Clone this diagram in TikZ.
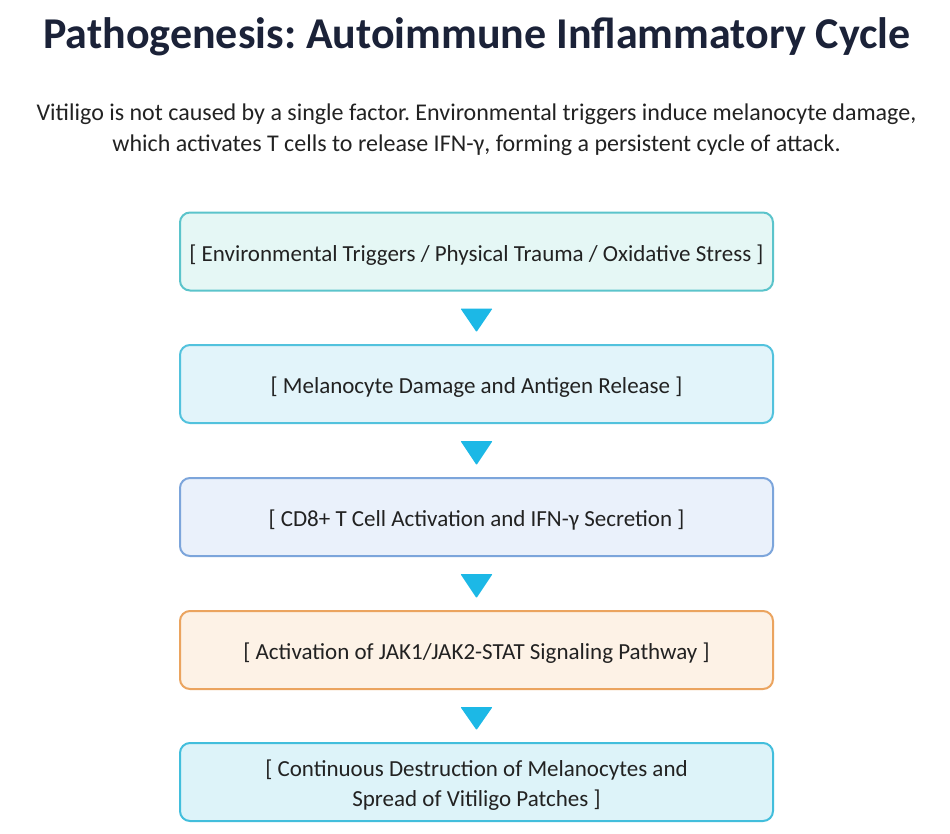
\documentclass[tikz,border=0pt]{standalone}
\usepackage{fontspec}
\setmainfont{Carlito}
\usetikzlibrary{calc}
\definecolor{titlec}{HTML}{1B2238}
\definecolor{textc}{HTML}{222222}
\definecolor{fillA}{HTML}{E5F7F5}\definecolor{drawA}{HTML}{5BC4CB}
\definecolor{fillB}{HTML}{E2F4FA}\definecolor{drawB}{HTML}{52C2DD}
\definecolor{fillC}{HTML}{EAF1FB}\definecolor{drawC}{HTML}{7CA5DB}
\definecolor{fillD}{HTML}{FDF2E6}\definecolor{drawD}{HTML}{EBA45F}
\definecolor{fillE}{HTML}{DDF3F9}\definecolor{drawE}{HTML}{42BEDC}
\definecolor{arrowc}{HTML}{1CB8E6}
\newcommand{\lowtext}[1]{\raisebox{-3.5pt}[\height][\depth]{\begin{tabular}{@{}c@{}}#1\end{tabular}}}
\tikzset{
  stepbox/.style={draw, line width=2pt, rounded corners=10pt, minimum width=593pt, minimum height=78pt, inner sep=0pt, align=center, text=textc, font=\fontsize{23}{30}\selectfont},
  tri/.style={fill=arrowc, rounded corners=0.8pt},
}
\frenchspacing
\begin{document}
\begin{tikzpicture}[x=1pt,y=-1pt]
\useasboundingbox (0,0) rectangle (950,833);
\fill[white] (0,0) rectangle (950,833);
\node[text=titlec, font=\fontsize{44}{48}\selectfont\bfseries] (title) at (477,37) {Pathogenesis: Autoimmune Inflammatory Cycle};
\node[text=textc, align=center, font=\fontsize{24}{31}\selectfont] (sub) at (476.5,130) {Vitiligo is not caused by a single factor. Environmental triggers induce melanocyte damage,\\which activates T cells to release IFN-γ, forming a persistent cycle of attack.};
\node[stepbox, fill=fillA, draw=drawA] (b1) at (476.5,251.5) {\lowtext{[ Environmental Triggers / Physical Trauma / Oxidative Stress ]}};
\node[stepbox, fill=fillB, draw=drawB] (b2) at (476.5,384) {\lowtext{[ Melanocyte Damage and Antigen Release ]}};
\node[stepbox, fill=fillC, draw=drawC] (b3) at (476.5,517) {\lowtext{[ CD8+ T Cell Activation and IFN-γ Secretion ]}};
\node[stepbox, fill=fillD, draw=drawD] (b4) at (476.5,650) {\lowtext{[ Activation of JAK1/JAK2-STAT Signaling Pathway ]}};
\node[stepbox, fill=fillE, draw=drawE] (b5) at (476.5,782) {\lowtext{[ Continuous Destruction of Melanocytes and\\Spread of Vitiligo Patches ]}};
\foreach \a/\b in {b1/b2,b2/b3,b3/b4,b4/b5}{
  \fill[tri] ($(\a.south)+(-16,17)$) -- ($(\a.south)+(16,17)$) -- ($(\b.north)+(0,-12)$) -- cycle;
}
\end{tikzpicture}
\end{document}
